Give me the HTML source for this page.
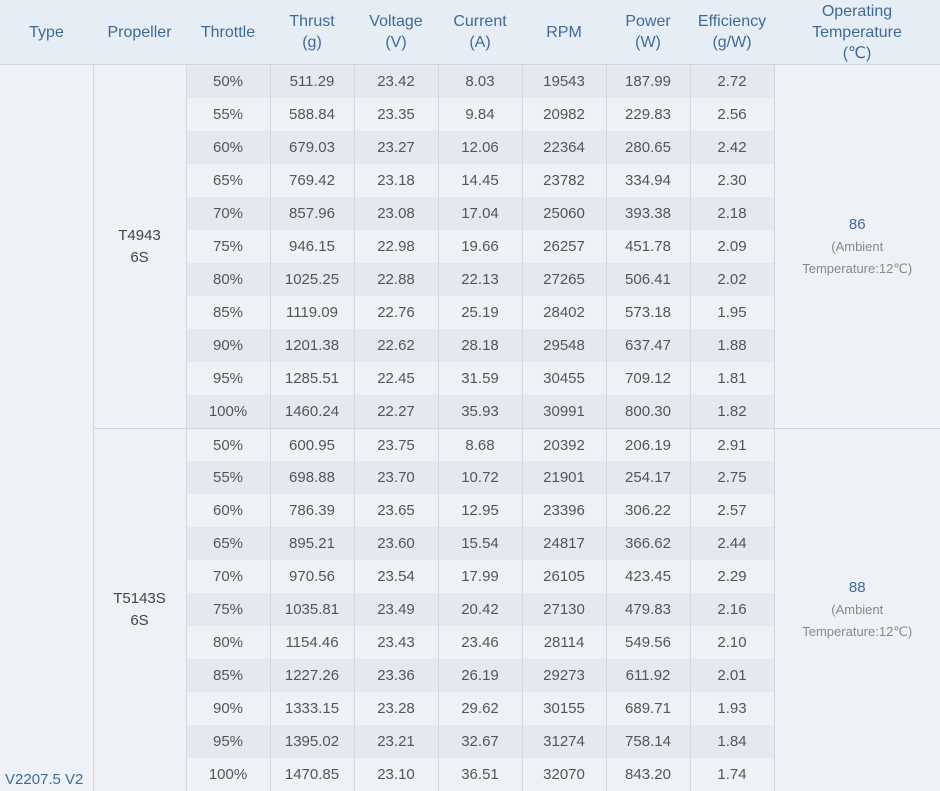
<!DOCTYPE html>
<html><head><style>
body{margin:0;background:#eef2f7;font-family:"Liberation Sans","DejaVu Sans",sans-serif;}
table{border-collapse:collapse;width:940px;table-layout:fixed;}
th{background:#e7edf4;color:#3f6a98;font-weight:normal;font-size:16px;line-height:21px;height:64px;padding:0;border-bottom:1px solid #cfd5dc;vertical-align:middle}
td{height:33px;padding:0;font-size:15px;color:#555;text-align:center;border-left:1px solid #d3d8de;background:#eef2f7}
tr.d td.v{background:#e4e9ef}
td.t{border-left:none;vertical-align:bottom;text-align:left;color:#3f6a98;padding:0 0 3px 5px}
td.p{color:#444;line-height:22px}
td.o{color:#888;font-size:13px;line-height:22px}
td.o b{font-weight:normal;color:#3f6a98;font-size:15px}
tr.g td{border-top:1px solid #cfd5dc;height:32px}
</style></head><body>
<table>
<colgroup><col style="width:93px"><col style="width:93px"><col style="width:84px"><col style="width:84px"><col style="width:84px"><col style="width:84px"><col style="width:84px"><col style="width:84px"><col style="width:84px"><col style="width:166px"></colgroup>
<tr><th>Type</th><th>Propeller</th><th>Throttle</th><th>Thrust<br>(g)</th><th>Voltage<br>(V)</th><th>Current<br>(A)</th><th>RPM</th><th>Power<br>(W)</th><th>Efficiency<br>(g/W)</th><th>Operating<br>Temperature<br>(℃)</th></tr>
<tr class="d"><td class="t" rowspan="22">V2207.5 V2</td><td class="p" rowspan="11">T4943<br>6S</td><td class="v">50%</td><td class="v">511.29</td><td class="v">23.42</td><td class="v">8.03</td><td class="v">19543</td><td class="v">187.99</td><td class="v">2.72</td><td class="o" rowspan="11"><b>86</b><br>(Ambient<br>Temperature:12℃)</td></tr>
<tr><td class="v">55%</td><td class="v">588.84</td><td class="v">23.35</td><td class="v">9.84</td><td class="v">20982</td><td class="v">229.83</td><td class="v">2.56</td></tr>
<tr class="d"><td class="v">60%</td><td class="v">679.03</td><td class="v">23.27</td><td class="v">12.06</td><td class="v">22364</td><td class="v">280.65</td><td class="v">2.42</td></tr>
<tr><td class="v">65%</td><td class="v">769.42</td><td class="v">23.18</td><td class="v">14.45</td><td class="v">23782</td><td class="v">334.94</td><td class="v">2.30</td></tr>
<tr class="d"><td class="v">70%</td><td class="v">857.96</td><td class="v">23.08</td><td class="v">17.04</td><td class="v">25060</td><td class="v">393.38</td><td class="v">2.18</td></tr>
<tr><td class="v">75%</td><td class="v">946.15</td><td class="v">22.98</td><td class="v">19.66</td><td class="v">26257</td><td class="v">451.78</td><td class="v">2.09</td></tr>
<tr class="d"><td class="v">80%</td><td class="v">1025.25</td><td class="v">22.88</td><td class="v">22.13</td><td class="v">27265</td><td class="v">506.41</td><td class="v">2.02</td></tr>
<tr><td class="v">85%</td><td class="v">1119.09</td><td class="v">22.76</td><td class="v">25.19</td><td class="v">28402</td><td class="v">573.18</td><td class="v">1.95</td></tr>
<tr class="d"><td class="v">90%</td><td class="v">1201.38</td><td class="v">22.62</td><td class="v">28.18</td><td class="v">29548</td><td class="v">637.47</td><td class="v">1.88</td></tr>
<tr><td class="v">95%</td><td class="v">1285.51</td><td class="v">22.45</td><td class="v">31.59</td><td class="v">30455</td><td class="v">709.12</td><td class="v">1.81</td></tr>
<tr class="d"><td class="v">100%</td><td class="v">1460.24</td><td class="v">22.27</td><td class="v">35.93</td><td class="v">30991</td><td class="v">800.30</td><td class="v">1.82</td></tr>
<tr class="g"><td class="p" rowspan="11">T5143S<br>6S</td><td class="v">50%</td><td class="v">600.95</td><td class="v">23.75</td><td class="v">8.68</td><td class="v">20392</td><td class="v">206.19</td><td class="v">2.91</td><td class="o" rowspan="11"><b>88</b><br>(Ambient<br>Temperature:12℃)</td></tr>
<tr class="d"><td class="v">55%</td><td class="v">698.88</td><td class="v">23.70</td><td class="v">10.72</td><td class="v">21901</td><td class="v">254.17</td><td class="v">2.75</td></tr>
<tr><td class="v">60%</td><td class="v">786.39</td><td class="v">23.65</td><td class="v">12.95</td><td class="v">23396</td><td class="v">306.22</td><td class="v">2.57</td></tr>
<tr class="d"><td class="v">65%</td><td class="v">895.21</td><td class="v">23.60</td><td class="v">15.54</td><td class="v">24817</td><td class="v">366.62</td><td class="v">2.44</td></tr>
<tr><td class="v">70%</td><td class="v">970.56</td><td class="v">23.54</td><td class="v">17.99</td><td class="v">26105</td><td class="v">423.45</td><td class="v">2.29</td></tr>
<tr class="d"><td class="v">75%</td><td class="v">1035.81</td><td class="v">23.49</td><td class="v">20.42</td><td class="v">27130</td><td class="v">479.83</td><td class="v">2.16</td></tr>
<tr><td class="v">80%</td><td class="v">1154.46</td><td class="v">23.43</td><td class="v">23.46</td><td class="v">28114</td><td class="v">549.56</td><td class="v">2.10</td></tr>
<tr class="d"><td class="v">85%</td><td class="v">1227.26</td><td class="v">23.36</td><td class="v">26.19</td><td class="v">29273</td><td class="v">611.92</td><td class="v">2.01</td></tr>
<tr><td class="v">90%</td><td class="v">1333.15</td><td class="v">23.28</td><td class="v">29.62</td><td class="v">30155</td><td class="v">689.71</td><td class="v">1.93</td></tr>
<tr class="d"><td class="v">95%</td><td class="v">1395.02</td><td class="v">23.21</td><td class="v">32.67</td><td class="v">31274</td><td class="v">758.14</td><td class="v">1.84</td></tr>
<tr><td class="v">100%</td><td class="v">1470.85</td><td class="v">23.10</td><td class="v">36.51</td><td class="v">32070</td><td class="v">843.20</td><td class="v">1.74</td></tr>
</table>
</body></html>
